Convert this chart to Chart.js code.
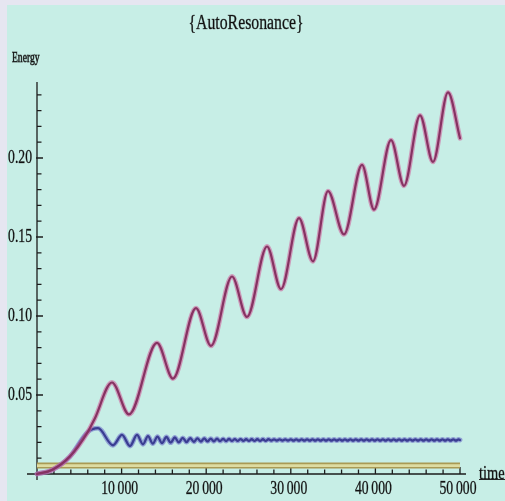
<!DOCTYPE html>
<html>
<head>
<meta charset="utf-8">
<script src="https://cdn.jsdelivr.net/npm/chart.js@4/dist/chart.umd.min.js"></script>
<style>
  html, body { margin: 0; padding: 0; background: #e6e6f1; }
  canvas { display: block; }
</style>
</head>
<body>
<canvas id="c" width="505" height="501"></canvas>
<script>
// ---- text ----
const chartTitle = '{AutoResonance}';
const xAxisName = 'time';
const yAxisName = 'Energy';

// ---- tick marks and labels ----
const timeTickValues = [10000, 20000, 30000, 40000, 50000];
const timeTickLabels = ['10\u2009000', '20\u2009000', '30\u2009000', '40\u2009000', '50\u2009000'];
const energyTickValues = [0.05, 0.10, 0.15, 0.20];
const energyTickLabels = ['0.05', '0.10', '0.15', '0.20'];

// ---- driven oscillator energy (growing, locked to the drive) ----
const driveTime = [0, 1760, 3880, 6000, 6820, 8865, 10875, 14184, 16076, 18794, 20567,
  23050, 24823, 27187, 28842, 30969, 32624, 34397, 36288, 38416, 39835,
  41844, 43381, 45272, 46809, 48582, 50000];
const driveEnergy = [0, 0.0025, 0.0110, 0.0266, 0.0350, 0.0579, 0.0377, 0.0830, 0.0604, 0.1050, 0.0811,
  0.1250, 0.0994, 0.1440, 0.1170, 0.1620, 0.1346, 0.1790, 0.1516, 0.1956, 0.1673,
  0.2113, 0.1824, 0.2270, 0.1975, 0.2415, 0.2125];

// ---- free oscillator energy (saturates and rings down) ----
const freeTime = [0, 1760, 3880, 6000, 7210, 8983, 10047, 10993, 11820, 12530, 13120,
  13690, 14240, 14780, 15300, 15800, 16290, 16760, 17220, 17670, 18110,
  18540, 18960, 19370, 19770, 20160, 20540, 20910, 21280, 21640, 22000,
  22350, 22700, 23040, 23380, 23720, 24060, 24390, 24720, 25050, 25380,
  25710, 26040, 26370, 26700, 27030, 27360, 27690, 28020, 28350, 28680,
  29010, 29340, 29670, 30000, 30320, 30640, 30960, 31280, 31600, 31920,
  32240, 32560, 32880, 33200, 33520, 33840, 34160, 34480, 34800, 35120,
  35440, 35760, 36080, 36400, 36720, 37040, 37360, 37680, 38000, 38320,
  38640, 38960, 39280, 39600, 39920, 40240, 40560, 40880, 41200, 41520,
  41840, 42160, 42480, 42800, 43120, 43440, 43760, 44080, 44400, 44720,
  45040, 45360, 45680, 46000, 46320, 46640, 46960, 47280, 47600, 47920,
  48240, 48560, 48880, 49200, 49520, 49840, 50000];
const freeEnergy = [0, 0.0025, 0.0110, 0.0266, 0.0290, 0.0182, 0.0247, 0.0177, 0.0247, 0.0188, 0.0240,
  0.0192, 0.0237, 0.0195, 0.0234, 0.0198, 0.0231, 0.0200, 0.0229, 0.0202, 0.0227,
  0.0204, 0.0226, 0.0205, 0.0225, 0.0206, 0.0224, 0.0207, 0.0223, 0.0208, 0.0222,
  0.0208, 0.0222, 0.0209, 0.0221, 0.0209, 0.0221, 0.0210, 0.0220, 0.0210, 0.0220,
  0.0210, 0.0220, 0.0210, 0.0220, 0.0210, 0.0220, 0.0211, 0.0219, 0.0211, 0.0219,
  0.0211, 0.0219, 0.0211, 0.0219, 0.0211, 0.0219, 0.0211, 0.0219, 0.0211, 0.0219,
  0.0211, 0.0219, 0.0211, 0.0219, 0.0211, 0.0219, 0.0211, 0.0219, 0.0211, 0.0219,
  0.0211, 0.0219, 0.0211, 0.0219, 0.0211, 0.0219, 0.0211, 0.0219, 0.0211, 0.0219,
  0.0211, 0.0219, 0.0211, 0.0219, 0.0211, 0.0219, 0.0211, 0.0219, 0.0211, 0.0219,
  0.0211, 0.0219, 0.0211, 0.0219, 0.0211, 0.0219, 0.0211, 0.0219, 0.0211, 0.0219,
  0.0211, 0.0219, 0.0211, 0.0219, 0.0211, 0.0219, 0.0211, 0.0219, 0.0211, 0.0219,
  0.0211, 0.0219, 0.0211, 0.0219, 0.0211, 0.0219, 0.0215];

// ---- drive level (constant) ----
const levelTime = [0, 50000];
const levelEnergy = [0.0053, 0.0053];

const toPoints = (ts, es) => ts.map((t, i) => ({ x: t, y: es[i] }));

// Condensed, slightly heavy serif text
function squeezedText(ctx, str, px, py, size, align, k, weight) {
  ctx.save();
  ctx.translate(px, py);
  ctx.scale(k, 1);
  ctx.font = size + 'px "Liberation Serif", "DejaVu Serif", serif';
  ctx.textAlign = align;
  ctx.textBaseline = 'middle';
  ctx.fillStyle = '#121212';
  ctx.strokeStyle = 'rgba(18,18,18,0.6)';
  ctx.lineWidth = weight || 0.5;
  ctx.fillText(str, 0, 0);
  ctx.strokeText(str, 0, 0);
  ctx.restore();
}

const frame = {
  id: 'frame',
  beforeDraw(chart) {
    const ctx = chart.ctx;
    ctx.save();
    ctx.fillStyle = '#e6e6f1';
    ctx.fillRect(0, 0, chart.width, chart.height);
    ctx.fillStyle = '#c7eee6';
    ctx.fillRect(7, 5, chart.width - 7, chart.height - 5);
    ctx.restore();
  },
  beforeDatasetsDraw(chart) {
    const { ctx, chartArea: a } = chart;
    const xs = chart.scales.x, ys = chart.scales.y;
    const x0 = xs.getPixelForValue(0);
    const y0 = ys.getPixelForValue(0);
    ctx.save();
    ctx.strokeStyle = '#1c1c1c';
    ctx.lineWidth = 1.3;
    ctx.beginPath();
    ctx.moveTo(a.left, y0); ctx.lineTo(a.right, y0);
    ctx.moveTo(x0, a.top); ctx.lineTo(x0, a.bottom);
    // time ticks every 2000, long ones at the labelled values
    for (let t = 2000; t <= 50000; t += 2000) {
      const px = xs.getPixelForValue(t);
      const major = timeTickValues.includes(t);
      ctx.moveTo(px, y0); ctx.lineTo(px, y0 - (major ? 7 : 4.5));
    }
    // energy ticks every 0.01
    for (let i = 1; i <= 24; i++) {
      const v = i / 100;
      const py = ys.getPixelForValue(v);
      const major = i % 5 === 0;
      ctx.moveTo(x0 - (major ? 1 : 0), py); ctx.lineTo(x0 + (major ? 6 : 4.5), py);
    }
    ctx.stroke();
    ctx.restore();
  },
  afterDraw(chart) {
    const { ctx } = chart;
    const xs = chart.scales.x, ys = chart.scales.y;
    const y0 = ys.getPixelForValue(0);
    const x0 = xs.getPixelForValue(0);
    timeTickValues.forEach((t, i) => {
      squeezedText(ctx, timeTickLabels[i], xs.getPixelForValue(t) - 2, 489, 18, 'center', 0.76);
    });
    energyTickValues.forEach((v, i) => {
      squeezedText(ctx, energyTickLabels[i], x0 - 5, ys.getPixelForValue(v), 18, 'right', 0.76);
    });
    squeezedText(ctx, chartTitle, 246, 24, 20.5, 'center', 0.77);
    squeezedText(ctx, yAxisName, 12, 58, 14.5, 'left', 0.66, 0.9);
    squeezedText(ctx, xAxisName, 479, y0, 18, 'left', 0.8);
    ctx.save();
    ctx.strokeStyle = '#222';
    ctx.lineWidth = 1;
    ctx.beginPath();
    ctx.moveTo(479, y0 + 5.5); ctx.lineTo(505, y0 + 5.5);
    ctx.stroke();
    ctx.restore();
  }
};

const lineBase = { pointRadius: 0, pointHoverRadius: 0, fill: false, borderCapStyle: 'round', borderJoinStyle: 'round' };

new Chart(document.getElementById('c'), {
  type: 'line',
  data: {
    datasets: [
      Object.assign({ label: 'driven', data: toPoints(driveTime, driveEnergy), borderColor: '#863262', borderWidth: 2.2, cubicInterpolationMode: 'monotone' }, lineBase),
      Object.assign({ label: 'driven halo', data: toPoints(driveTime, driveEnergy), borderColor: 'rgba(206,100,156,0.6)', borderWidth: 4.8, cubicInterpolationMode: 'monotone' }, lineBase),
      Object.assign({ label: 'free', data: toPoints(freeTime, freeEnergy), borderColor: '#3a3d92', borderWidth: 2.3, cubicInterpolationMode: 'monotone' }, lineBase),
      Object.assign({ label: 'free halo', data: toPoints(freeTime, freeEnergy), borderColor: 'rgba(108,112,200,0.6)', borderWidth: 4.8, cubicInterpolationMode: 'monotone' }, lineBase),
      Object.assign({ label: 'level', data: toPoints(levelTime, levelEnergy), borderColor: '#dedca2', borderWidth: 2.6 }, lineBase, { borderCapStyle: 'butt' }),
      Object.assign({ label: 'level edge', data: toPoints(levelTime, levelEnergy), borderColor: '#a99a55', borderWidth: 6 }, lineBase, { borderCapStyle: 'butt' })
    ]
  },
  options: {
    responsive: false,
    animation: false,
    parsing: false,
    layout: { padding: { left: 27, top: 82, right: 39, bottom: 21 } },
    scales: {
      x: { type: 'linear', min: -1182, max: 50709, display: false },
      y: { type: 'linear', min: -0.0038, max: 0.2481, display: false }
    },
    plugins: { legend: { display: false }, tooltip: { enabled: false }, title: { display: false } },
    events: []
  },
  plugins: [frame]
});
</script>
</body>
</html>
